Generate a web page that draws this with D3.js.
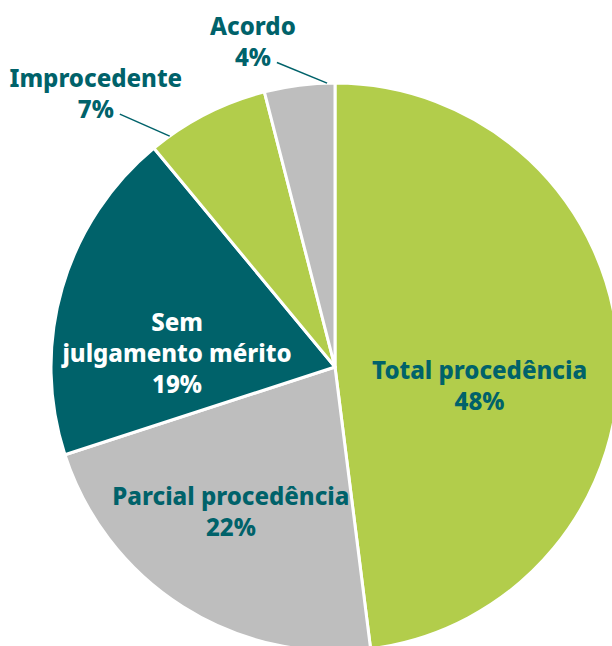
<!DOCTYPE html>
<html>
<head>
<meta charset="utf-8">
<script src="https://cdn.jsdelivr.net/npm/d3@7"></script>
<style>
  html, body { margin: 0; padding: 0; background: #fff; }
  svg { display: block; }
  text { font-family: "Noto Sans", "Open Sans", sans-serif; font-weight: 800; }
</style>
</head>
<body>
<div id="chart"></div>
<script>
(function() {
  var categories = ["Total procedência", "Parcial procedência", "Sem julgamento mérito", "Improcedente", "Acordo"];
  var values = [48, 22, 19, 7, 4];
  var sliceColors = ["#b2cd4b", "#bebebe", "#00626a", "#b2cd4b", "#bebebe"];
  // label lines as drawn in the picture
  var labelLines = [["Total procedência"], ["Parcial procedência"], ["Sem", "julgamento mérito"], ["Improcedente"], ["Acordo"]];

  var W = 612, H = 646;
  var cx = 335, cy = 367, R = 284;
  var teal = "#00626a";
  var lineH = 31;
  var fs = 24;

  var svg = d3.select("#chart").append("svg")
    .attr("width", W)
    .attr("height", H);

  var data = categories.map(function(c, i) {
    return {name: c, value: values[i], color: sliceColors[i], lines: labelLines[i]};
  });

  var pie = d3.pie().sort(null).value(function(d) { return d.value; });
  var arcs = pie(data);
  var arc = d3.arc().innerRadius(0).outerRadius(R);

  var g = svg.append("g").attr("transform", "translate(" + cx + "," + cy + ")");

  g.selectAll("path")
    .data(arcs)
    .enter()
    .append("path")
    .attr("d", arc)
    .attr("fill", function(d) { return d.data.color; })
    .attr("stroke", "#fff")
    .attr("stroke-width", 3)
    .attr("stroke-linejoin", "round");

  var deg = Math.PI / 180;
  var polar = function(a, r) { return [Math.sin(a) * r, -Math.cos(a) * r]; };

  // inside labels: radius factor + nudge
  var insidePos = [
    {k: 0.51, dx: 0, dy: 28},
    {k: 0.52, dx: -25, dy: 20},
    {k: 0.55, dx: -8, dy: 30}
  ];
  // outside labels: leader goes from arc (hit) out to (from, r)
  var outsidePos = {
    3: {hit: 324.4, from: 319.6, r: 332},
    4: {hit: 358.4, from: 349.2, r: 310}
  };

  arcs.forEach(function(a, i) {
    var lines = a.data.lines.concat([a.data.value + "%"]);
    var mid = (a.startAngle + a.endAngle) / 2;
    var x, y, fill;
    if (i < 3) {
      var p = polar(mid, R * insidePos[i].k);
      x = p[0] + insidePos[i].dx;
      y = p[1] + insidePos[i].dy;
      fill = i === 2 ? "#fff" : teal;
    } else {
      fill = teal;
      var o = outsidePos[i];
      var end = polar(o.hit * deg, R);
      var start = polar(o.from * deg, o.r);
      g.append("line")
        .attr("x1", end[0]).attr("y1", end[1])
        .attr("x2", start[0]).attr("y2", start[1])
        .attr("stroke", teal)
        .attr("stroke-width", 1.5);
      x = start[0] - 24;
      y = start[1] - 20;
    }
    var n = lines.length;
    var t = g.append("text")
      .attr("text-anchor", "middle")
      .attr("fill", fill)
      .style("font-size", fs + "px");
    lines.forEach(function(l, k) {
      t.append("tspan")
        .attr("x", x)
        .attr("y", y + (k - (n - 1) / 2) * lineH)
        .attr("dy", "0.35em")
        .text(l);
    });
  });
})();
</script>
</body>
</html>
